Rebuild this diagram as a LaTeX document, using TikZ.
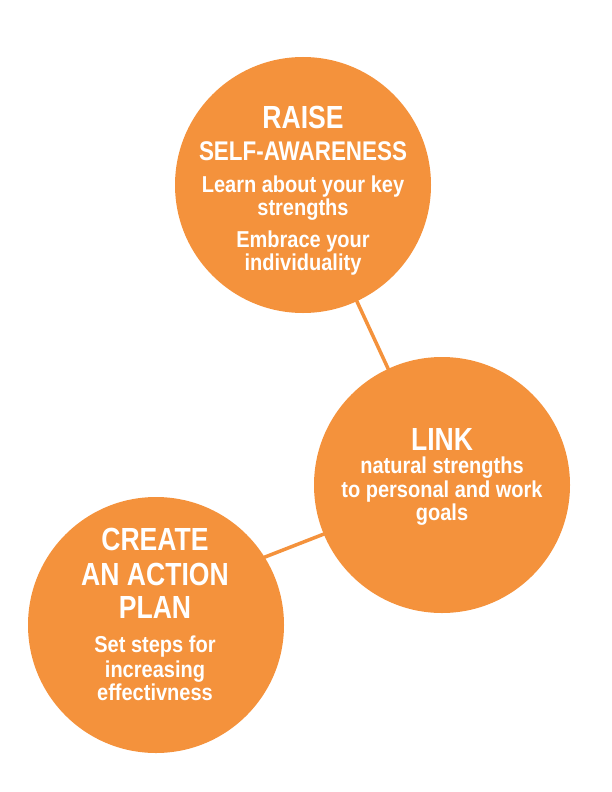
\documentclass[tikz,border=0pt]{standalone}
\usepackage{fontspec}
\setmainfont{Liberation Sans}[FakeStretch=0.83]
\newfontfamily\bodyfont{Liberation Sans}[FakeStretch=0.87]
\usetikzlibrary{backgrounds}
\definecolor{orng}{RGB}{244,146,60}
\tikzset{
  bubble/.style={circle, fill=orng, minimum size=256pt, inner sep=0pt},
  link/.style={draw=orng, line width=3.5pt},
  head/.style={anchor=base, text=white, font=\bfseries\fontsize{32}{34}\selectfont},
  subhead/.style={anchor=base, text=white, font=\bfseries\fontsize{27}{30}\selectfont},
  body/.style={anchor=base, text=white, font=\bodyfont\bfseries\fontsize{23}{25}\selectfont}
}
\begin{document}
\begin{tikzpicture}[x=1pt,y=-1pt]
\useasboundingbox (0,0) rectangle (612,792);
\node[bubble] (top) at (303,185) {};
\node[bubble] (mid) at (442,485) {};
\node[bubble] (bot) at (156,625) {};
\begin{scope}[on background layer]
\draw[link] (top.center) -- (mid.center);
\draw[link] ([yshift=25.5pt]bot.center) -- ([yshift=-3pt]mid.center);
\end{scope}
% top text
\node[head] (t1) at (303,128) {RAISE};
\node[subhead] (t2) at (303,160) {SELF-AWARENESS};
\node[body] (t3) at (303,192) {Learn about your key};
\node[body] (t4) at (303,215) {strengths};
\node[body] (t5) at (303,247) {Embrace your};
\node[body] (t6) at (303,270) {individuality};
% middle text
\node[head] (m1) at (442,450) {LINK};
\node[body] (m2) at (442,473) {natural strengths};
\node[body] (m3) at (442,497) {to personal and work};
\node[body] (m4) at (442,520) {goals};
% bottom text
\node[head] (b1) at (155,550) {CREATE};
\node[head] (b2) at (155,585) {AN ACTION};
\node[head] (b3) at (155,618) {PLAN};
\node[body] (b4) at (155,652) {Set steps for};
\node[body] (b5) at (155,677) {increasing};
\node[body] (b6) at (155,700) {effectivness};
\end{tikzpicture}
\end{document}
